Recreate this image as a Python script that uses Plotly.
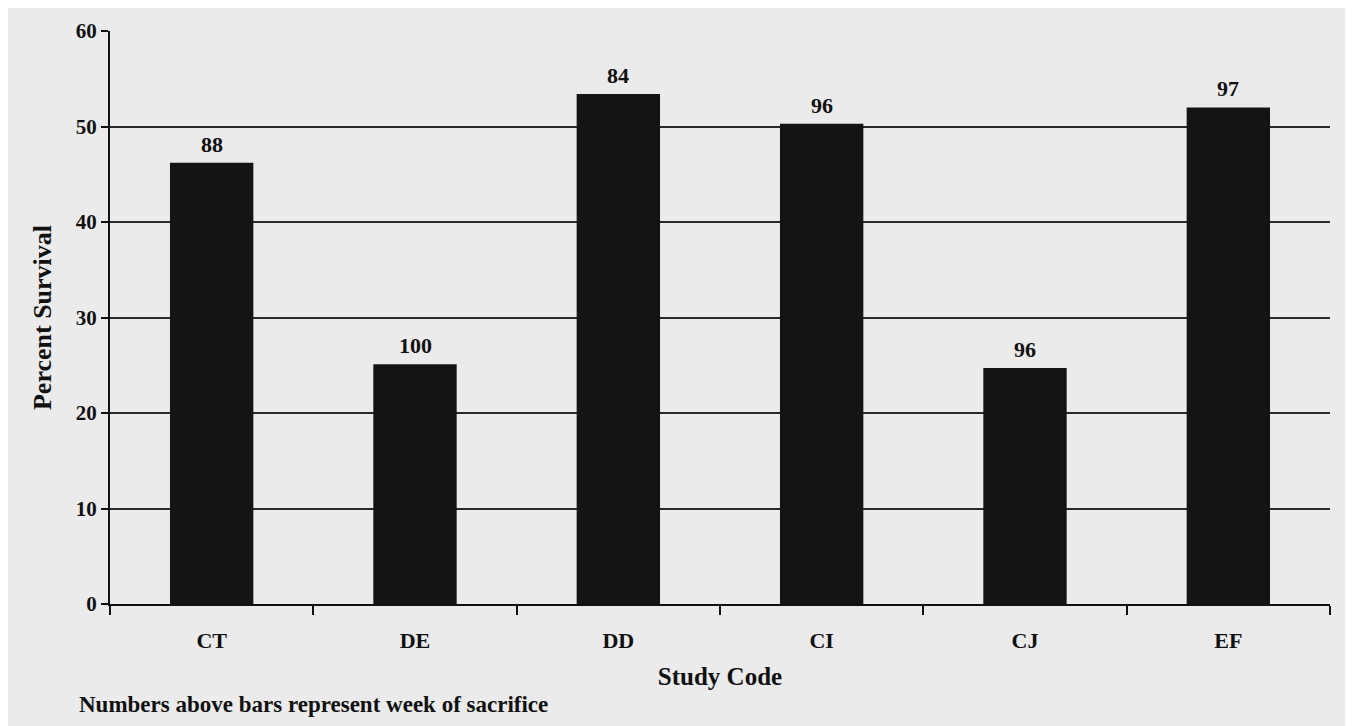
import plotly.graph_objects as go

categories = ["CT", "DE", "DD", "CI", "CJ", "EF"]
percent_survival = [46.2, 25.1, 53.4, 50.3, 24.7, 52.0]
week_of_sacrifice = ["88", "100", "84", "96", "96", "97"]

FONT = "Liberation Serif"
INK = "#111111"
BG = "#ebebeb"

fig = go.Figure()
fig.add_trace(go.Bar(
    x=categories,
    y=percent_survival,
    marker=dict(color="#141414", line=dict(width=0)),
    width=0.41,
    hoverinfo="skip",
))

for cat, val, wk in zip(categories, percent_survival, week_of_sacrifice):
    fig.add_annotation(
        x=cat, y=val, xref="x", yref="y",
        text=f"<b>{wk}</b>", showarrow=False,
        yanchor="bottom", yshift=4,
        font=dict(family=FONT, size=22, color=INK),
    )

fig.update_layout(
    width=1353, height=726,
    margin=dict(l=102, r=31, t=23, b=130),
    paper_bgcolor=BG,
    plot_bgcolor=BG,
    showlegend=False,
    font=dict(family=FONT, color=INK),
    xaxis=dict(
        type="category",
        tickson="boundaries",
        ticks="outside", ticklen=9, tickwidth=2, tickcolor=INK,
        showline=True, linecolor=INK, linewidth=2,
        showgrid=False,
        tickfont=dict(family=FONT, size=22, color=INK),
        tickprefix="<b>", ticksuffix="</b>",
        title=dict(text="<b>Study Code</b>", font=dict(family=FONT, size=25, color=INK), standoff=15),
        ticklabelstandoff=16,
    ),
    yaxis=dict(
        range=[0, 60], dtick=10,
        ticks="outside", ticklen=7, tickwidth=2, tickcolor=INK,
        showline=True, linecolor=INK, linewidth=2,
        showgrid=True, gridcolor="#2a2a2a", gridwidth=2,
        zeroline=False,
        tickfont=dict(family=FONT, size=21, color=INK),
        tickprefix="<b>", ticksuffix="</b>",
        title=dict(text="<b>Percent Survival</b>", font=dict(family=FONT, size=26, color=INK), standoff=17),
    ),
)

fig.add_annotation(
    xref="paper", yref="paper",
    x=-0.027, y=-0.176,
    xanchor="left", yanchor="middle",
    text="<b>Numbers above bars represent week of sacrifice</b>",
    showarrow=False,
    font=dict(family=FONT, size=23, color=INK),
)

fig.write_html("out.html")
